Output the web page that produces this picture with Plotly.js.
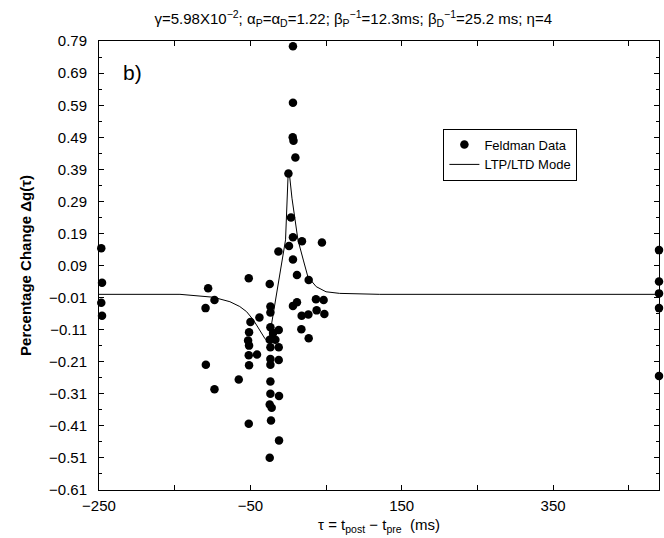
<!DOCTYPE html>
<html>
<head>
<meta charset="utf-8">
<script src="https://cdn.plot.ly/plotly-3.0.1.min.js"></script>
<style>html,body{margin:0;padding:0;background:#fff}#chart{width:664px;height:538px}</style>
</head>
<body>
<div id="chart"></div>
<script>
// Feldman data points (tau in ms, percentage change)
const dataTau = [6.3, 6.3, 6.0, 7.0, 9.5, 0.3, 3.7, 6.3, 1.1, 18.2, 44.6, -12.9, 6.3,
  11.6, 27.1, -52.1, -24.4, -105.8, -97.4, -109.2, 6.3, 11.6, 36.7, 46.8, -23.5, -23.5, -38, -49.9,
  17.8, 26.7, 37.6, 47.8, -23.5, -12.5, -20, -51.7, -53, -24.4, -16.9, -51.7, -23.5, -12.5, 17.4, 27.1,
  -52.1, -41.2, -23.5, -12.5, -23.5, -108.8, -51.7, -65.3, -97.4, -23.5, -23.5, -12.1, -24.4, -21.8,
  -52.1, -22.7, -12.1, -24.4,
  -247, -246, -247, -246,
  490, 490, 490, 490, 490];
const dataDg = [0.774, 0.598, 0.490, 0.479, 0.427, 0.377, 0.240, 0.178, 0.151, 0.166, 0.162, 0.134, 0.109,
  0.060, 0.045, 0.050, 0.032, 0.019, -0.018, -0.043, -0.036, -0.025, -0.015, -0.018, -0.038, -0.057, -0.072, -0.086,
  -0.067, -0.063, -0.050, -0.061, -0.103, -0.111, -0.121, -0.118, -0.144, -0.142, -0.142, -0.160, -0.165, -0.165, -0.109, -0.137,
  -0.190, -0.188, -0.202, -0.205, -0.220, -0.220, -0.221, -0.266, -0.296, -0.272, -0.310, -0.317, -0.344, -0.354,
  -0.404, -0.394, -0.456, -0.510,
  0.144, 0.036, -0.026, -0.067,
  0.138, 0.040, 0.003, -0.043, -0.255];

// LTP/LTD model curve
const modelTau = [-250, -143, -99, -77, -64, -55, -46, -38, -31, -26, -3.5, 0, 2, 5, 12.9, 20, 26, 37, 50, 68, 121, 490];
const modelDg  = [0, 0, -0.009, -0.023, -0.038, -0.054, -0.080, -0.111, -0.137, -0.150, 0.17, 0.38, 0.367, 0.30, 0.17, 0.107, 0.055, 0.024, 0.008, 0.003, 0, 0];

const titleText = 'γ=5.98X10<sup>−2</sup>; α<sub>P</sub>=α<sub>D</sub>=1.22; β<sub>P</sub><sup>−1</sup>=12.3ms; β<sub>D</sub><sup>−1</sup>=25.2 ms; η=4';
const xTitle = 'τ = t<sub>post</sub> − t<sub>pre</sub>  (ms)';
const yTitle = '<b>Percentage Change Δg(τ)</b>';

const font = 'Liberation Sans, Arial, Helvetica, sans-serif';

const traces = [
  {x: dataTau, y: dataDg, type: 'scatter', mode: 'markers', name: 'Feldman Data',
   marker: {color: '#000', size: 8.5}, cliponaxis: false},
  {x: modelTau, y: modelDg, type: 'scatter', mode: 'lines', name: 'LTP/LTD Mode',
   line: {color: '#000', width: 1}}
];

const layout = {
  width: 664, height: 538,
  margin: {l: 99, r: 5, t: 41, b: 48},
  paper_bgcolor: '#fff', plot_bgcolor: '#fff',
  font: {family: font, color: '#000', size: 15},
  title: {text: titleText, x: 0.532, xanchor: 'center', y: 0.965, yanchor: 'middle', font: {size: 15, family: font}},
  showlegend: true,
  legend: {x: 0.615, y: 0.805, xanchor: 'left', yanchor: 'top', bgcolor: '#fff',
    bordercolor: '#000', borderwidth: 1, font: {size: 13, family: font}, tracegroupgap: 0},
  xaxis: {
    range: [-250, 490], tick0: -250, dtick: 200, ticks: 'inside', ticklen: 5, tickcolor: '#000',
    showline: true, linecolor: '#000', linewidth: 1, mirror: 'ticks', showgrid: false, zeroline: false,
    minor: {dtick: 100, tick0: -250, ticks: 'inside', ticklen: 5, tickcolor: '#000', showgrid: false},
    tickfont: {size: 15}, ticklabelstandoff: 2,
    title: {text: xTitle, font: {size: 15}, standoff: 6}
  },
  yaxis: {
    range: [-0.6105, 0.7905], tick0: -0.61, dtick: 0.1, tickformat: '.2f', ticks: 'inside', ticklen: 5, tickcolor: '#000',
    showline: true, linecolor: '#000', linewidth: 1, mirror: 'ticks', showgrid: false, zeroline: false,
    minor: {dtick: 0.05, tick0: -0.61, ticks: 'inside', ticklen: 3, tickcolor: '#000', showgrid: false},
    tickfont: {size: 15}, ticklabelstandoff: 8,
    title: {text: yTitle, font: {size: 15}, standoff: 13}
  },
  annotations: [
    {text: 'b)', xref: 'paper', yref: 'paper', x: 0.04, y: 0.93, xanchor: 'left', yanchor: 'middle',
     showarrow: false, font: {size: 21, family: font}}
  ]
};

Plotly.newPlot('chart', traces, layout, {displayModeBar: false, staticPlot: true});
</script>
</body>
</html>
